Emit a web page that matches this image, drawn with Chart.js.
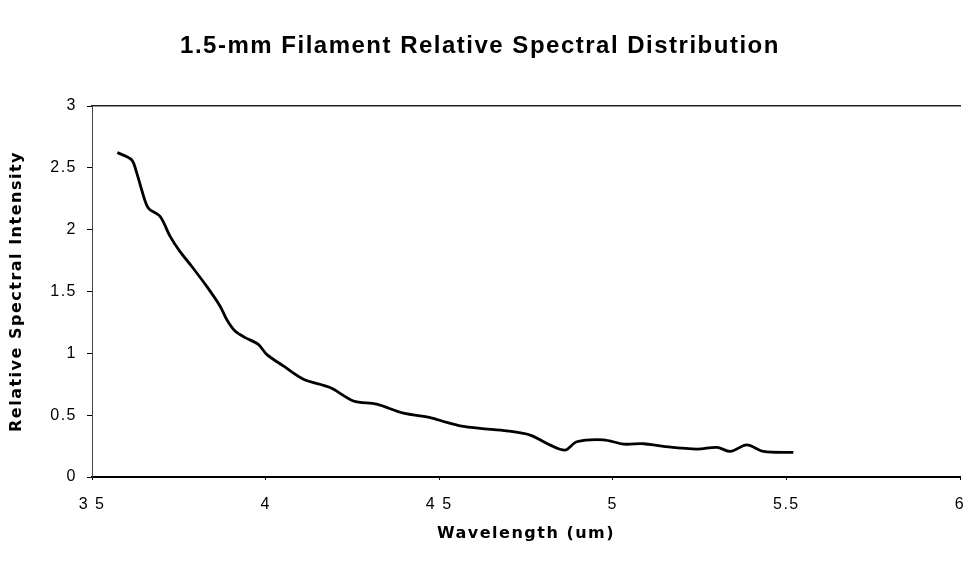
<!DOCTYPE html>
<html>
<head>
<meta charset="utf-8">
<script src="https://cdn.jsdelivr.net/npm/chart.js@4"></script>
<style>
  html, body { margin: 0; padding: 0; background: #fff; }
  #wrap { width: 972px; height: 564px; position: relative; }
</style>
</head>
<body>
<div id="wrap"><canvas id="c" width="972" height="564"></canvas></div>
<script>
const chartTitle = "1.5-mm Filament Relative Spectral Distribution";
const xTitle = "Wavelength (um)";
const yTitle = "Relative Spectral Intensity";

const wavelengths = [3.573, 3.614, 3.629, 3.643, 3.662, 3.696, 3.725, 3.753, 3.787, 3.830,
  3.869, 3.888, 3.912, 3.941, 3.979, 4.003, 4.051, 4.109, 4.186, 4.253,
  4.320, 4.397, 4.474, 4.522, 4.560, 4.618, 4.695, 4.762, 4.820, 4.863,
  4.896, 4.973, 5.031, 5.089, 5.146, 5.243, 5.300, 5.339, 5.386, 5.434, 5.520];
const intensities = [2.623, 2.565, 2.457, 2.323, 2.175, 2.107, 1.946, 1.825, 1.704, 1.543,
  1.381, 1.274, 1.180, 1.127, 1.073, 0.992, 0.898, 0.790, 0.723, 0.615,
  0.589, 0.516, 0.481, 0.441, 0.414, 0.393, 0.373, 0.339, 0.258, 0.218,
  0.285, 0.301, 0.266, 0.269, 0.248, 0.226, 0.240, 0.207, 0.260, 0.207, 0.199];

const xTickValues = [3.5, 4, 4.5, 5, 5.5, 6];
const xTickLabels = ["3 5", "4", "4 5", "5", "5.5", "6"];
const yTickValues = [0, 0.5, 1, 1.5, 2, 2.5, 3];
const yTickLabels = ["0", "0.5", "1", "1.5", "2", "2.5", "3"];

const points = wavelengths.map((w, i) => ({ x: w, y: intensities[i] }));
const FONT = "'Liberation Sans', Arial, sans-serif";
const WIDE = "'DejaVu Sans', Verdana, sans-serif";

const spacingPlugin = {
  id: 'spacing',
  beforeLayout(chart) { chart.ctx.letterSpacing = '1.5px'; },
  beforeDraw(chart) { chart.ctx.letterSpacing = '1.5px'; }
};

const noSidePad = s => { s.paddingLeft = 0; s.paddingRight = 0; };

new Chart(document.getElementById('c'), {
  type: 'scatter',
  plugins: [spacingPlugin],
  data: {
    datasets: [{
      data: points,
      showLine: true,
      borderColor: '#000',
      borderWidth: 2.8,
      pointRadius: 0,
      tension: 0.3,
      fill: false
    }]
  },
  options: {
    responsive: false,
    animation: false,
    devicePixelRatio: 1,
    layout: { padding: { left: 0, right: 12, top: 0, bottom: 0 } },
    plugins: {
      legend: { display: false },
      tooltip: { enabled: false },
      title: {
        display: true,
        text: chartTitle,
        color: '#000',
        font: { family: FONT, size: 24, weight: 'bold' },
        padding: { top: 32, bottom: 45.2 }
      }
    },
    scales: {
      x: {
        type: 'linear',
        min: 3.5, max: 6,
        afterBuildTicks: s => { s.ticks = xTickValues.map(v => ({ value: v })); },
        afterFit: s => { s.height = 87; noSidePad(s); },
        ticks: {
          color: '#000',
          padding: 15,
          maxRotation: 0,
          font: { family: FONT, size: 16 },
          callback: v => { const i = xTickValues.indexOf(v); return i >= 0 ? xTickLabels[i] : ''; }
        },
        grid: { drawOnChartArea: false, drawTicks: true, tickLength: 3, tickColor: '#000' },
        border: { display: true, color: '#000', width: 2 },
        title: {
          display: true, text: xTitle, color: '#000',
          font: { family: WIDE, size: 16, weight: 'bold' },
          padding: { top: 0, bottom: 21 }
        }
      },
      xTop: {
        type: 'linear',
        position: 'top',
        min: 3.5, max: 6,
        afterFit: s => { s.height = 0; noSidePad(s); },
        ticks: { display: false },
        grid: { display: false, drawTicks: false },
        border: { display: true, color: '#222', width: 1.5 }
      },
      y: {
        type: 'linear',
        min: 0, max: 3,
        afterBuildTicks: s => { s.ticks = yTickValues.map(v => ({ value: v })); },
        afterFit: s => { s.width = 92; },
        ticks: {
          color: '#000',
          padding: 10,
          font: { family: FONT, size: 16 },
          callback: v => { const i = yTickValues.indexOf(v); return i >= 0 ? yTickLabels[i] : ''; }
        },
        grid: {
          drawOnChartArea: false,
          drawTicks: true,
          tickLength: 5,
          tickColor: '#000'
        },
        border: { display: true, color: '#444', width: 1, dash: [6, 4] },
        title: {
          display: true, text: yTitle, color: '#000',
          font: { family: WIDE, size: 16, weight: 'bold' },
          padding: { top: 7, bottom: 0 }
        }
      }
    }
  }
});
</script>
</body>
</html>
